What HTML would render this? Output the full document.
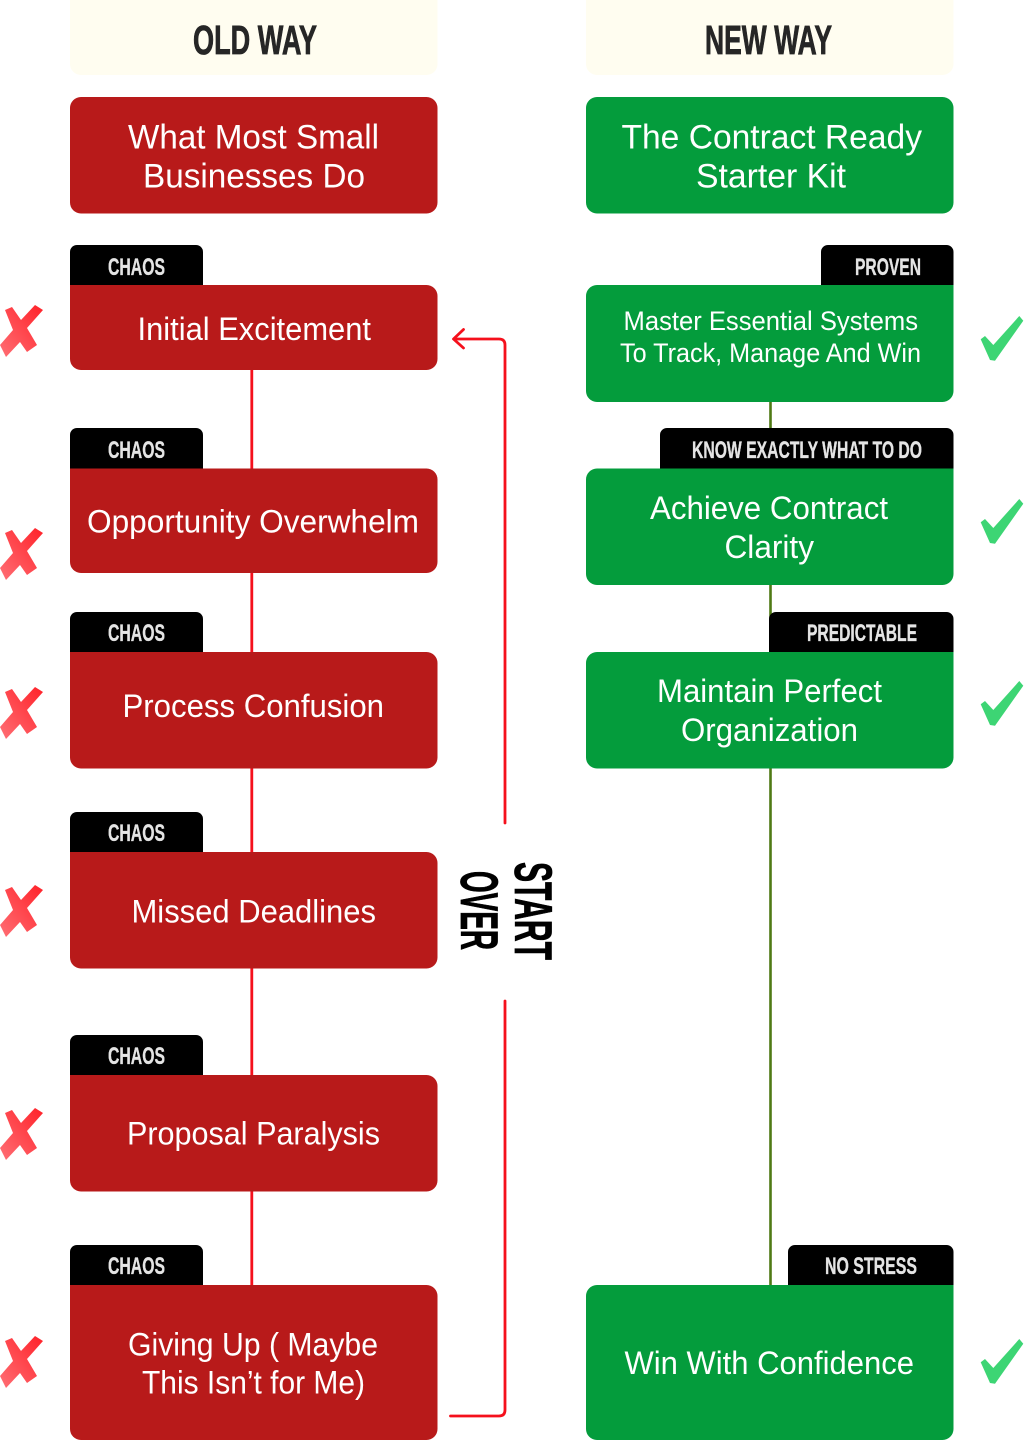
<!DOCTYPE html>
<html>
<head>
<meta charset="utf-8">
<style>
html,body{margin:0;padding:0;background:#fff;}
svg{display:block;}
.c{font-family:"Liberation Sans",sans-serif;font-weight:700;}
.m{font-family:"Liberation Sans",sans-serif;fill:#fff;}
.t{font-size:24px;fill:#e4e4e4;stroke:#e4e4e4;stroke-width:.35px;}
.h{stroke:#262626;stroke-width:.8px;}
.s{stroke:#000;stroke-width:.8px;}
</style>
</head>
<body>
<svg width="1025" height="1440" viewBox="0 0 1025 1440" xmlns="http://www.w3.org/2000/svg">
<defs>
<linearGradient id="xg" x1="1" y1="0" x2="0" y2="1">
<stop offset="0" stop-color="#ff2229"/>
<stop offset="1" stop-color="#ff6f75"/>
</linearGradient>
<polygon id="x" points="35,1 43,6 27,24 37,41 27,48 20,38 6,53 0,41 13,26 5,6 12,3 21,16" fill="url(#xg)"/>
<polygon id="ck" points="980.700,339.300 985,336 993.300,345 1019.300,316 1023.300,320.700 995,360.700 990,360" fill="#3dd574"/>
</defs>

<!-- connectors -->
<line x1="251.800" y1="365" x2="251.800" y2="1290" stroke="#f5101c" stroke-width="2.8"/>
<line x1="770.500" y1="398" x2="770.500" y2="1290" stroke="#4f7a14" stroke-width="2.6"/>

<!-- headers -->
<rect x="70" y="-12" width="367.500" height="87" rx="11" fill="#fffdf0"/>
<rect x="586" y="-12" width="367.500" height="87" rx="11" fill="#fffdf0"/>
<text class="c h" x="193" y="54" font-size="41" fill="#262626" textLength="124" lengthAdjust="spacingAndGlyphs">OLD WAY</text>
<text class="c h" x="705" y="54" font-size="41" fill="#262626" textLength="127" lengthAdjust="spacingAndGlyphs">NEW WAY</text>

<!-- tags -->
<g fill="#000">
<path d="M70 290V252a7 7 0 0 1 7-7H196a7 7 0 0 1 7 7V290Z"/>
<path d="M70 473V435a7 7 0 0 1 7-7H196a7 7 0 0 1 7 7V473Z"/>
<path d="M70 657V619a7 7 0 0 1 7-7H196a7 7 0 0 1 7 7V657Z"/>
<path d="M70 857V819a7 7 0 0 1 7-7H196a7 7 0 0 1 7 7V857Z"/>
<path d="M70 1080V1042a7 7 0 0 1 7-7H196a7 7 0 0 1 7 7V1080Z"/>
<path d="M70 1290V1252a7 7 0 0 1 7-7H196a7 7 0 0 1 7 7V1290Z"/>
<path d="M821 290V252a7 7 0 0 1 7-7H946.500a7 7 0 0 1 7 7V290Z"/>
<path d="M660 473V435a7 7 0 0 1 7-7H946.500a7 7 0 0 1 7 7V473Z"/>
<path d="M769 657V619a7 7 0 0 1 7-7H946.500a7 7 0 0 1 7 7V657Z"/>
<path d="M788 1290V1252a7 7 0 0 1 7-7H946.500a7 7 0 0 1 7 7V1290Z"/>
</g>
<g class="c t">
<text x="108" y="275" textLength="57" lengthAdjust="spacingAndGlyphs">CHAOS</text>
<text x="108" y="458" textLength="57" lengthAdjust="spacingAndGlyphs">CHAOS</text>
<text x="108" y="641" textLength="57" lengthAdjust="spacingAndGlyphs">CHAOS</text>
<text x="108" y="841" textLength="57" lengthAdjust="spacingAndGlyphs">CHAOS</text>
<text x="108" y="1064" textLength="57" lengthAdjust="spacingAndGlyphs">CHAOS</text>
<text x="108" y="1274" textLength="57" lengthAdjust="spacingAndGlyphs">CHAOS</text>
<text x="855" y="275" textLength="66" lengthAdjust="spacingAndGlyphs">PROVEN</text>
<text x="692" y="458" textLength="230" lengthAdjust="spacingAndGlyphs">KNOW EXACTLY WHAT TO DO</text>
<text x="807" y="641" textLength="110" lengthAdjust="spacingAndGlyphs">PREDICTABLE</text>
<text x="825" y="1274" textLength="92" lengthAdjust="spacingAndGlyphs">NO STRESS</text>
</g>

<!-- red boxes -->
<g fill="#b81a1a">
<rect x="70" y="97" width="367.500" height="116.500" rx="11"/>
<path d="M70 285H426.500a11 11 0 0 1 11 11V359a11 11 0 0 1-11 11H81a11 11 0 0 1-11-11Z"/>
<path d="M70 468.500H426.500a11 11 0 0 1 11 11V562a11 11 0 0 1-11 11H81a11 11 0 0 1-11-11Z"/>
<path d="M70 652H426.500a11 11 0 0 1 11 11V757.500a11 11 0 0 1-11 11H81a11 11 0 0 1-11-11Z"/>
<path d="M70 852H426.500a11 11 0 0 1 11 11V957.500a11 11 0 0 1-11 11H81a11 11 0 0 1-11-11Z"/>
<path d="M70 1075H426.500a11 11 0 0 1 11 11V1180.500a11 11 0 0 1-11 11H81a11 11 0 0 1-11-11Z"/>
<path d="M70 1285H426.500a11 11 0 0 1 11 11V1429a11 11 0 0 1-11 11H81a11 11 0 0 1-11-11Z"/>
</g>
<!-- green boxes -->
<g fill="#049c3c">
<rect x="586" y="97" width="367.500" height="116.500" rx="11"/>
<path d="M953.500 285H597a11 11 0 0 0-11 11V391a11 11 0 0 0 11 11H942.500a11 11 0 0 0 11-11Z"/>
<path d="M953.500 468.500H597a11 11 0 0 0-11 11V574a11 11 0 0 0 11 11H942.500a11 11 0 0 0 11-11Z"/>
<path d="M953.500 652H597a11 11 0 0 0-11 11V757.500a11 11 0 0 0 11 11H942.500a11 11 0 0 0 11-11Z"/>
<path d="M953.500 1285H597a11 11 0 0 0-11 11V1429a11 11 0 0 0 11 11H942.500a11 11 0 0 0 11-11Z"/>
</g>

<!-- box text -->
<g class="m" font-size="34">
<text x="128" y="148.300" textLength="251" lengthAdjust="spacingAndGlyphs">What Most Small</text>
<text x="143" y="187.300" textLength="222" lengthAdjust="spacingAndGlyphs">Businesses Do</text>
<text x="621.500" y="148.300" textLength="300.500" lengthAdjust="spacingAndGlyphs">The Contract Ready</text>
<text x="696" y="187.300" textLength="150" lengthAdjust="spacingAndGlyphs">Starter Kit</text>
</g>
<g class="m" font-size="32">
<text x="137.500" y="340" textLength="233.500" lengthAdjust="spacingAndGlyphs">Initial Excitement</text>
<text x="87" y="532.300" textLength="332" lengthAdjust="spacingAndGlyphs">Opportunity Overwhelm</text>
<text x="122.500" y="717" textLength="261.500" lengthAdjust="spacingAndGlyphs">Process Confusion</text>
<text x="131.500" y="922.300" textLength="244.500" lengthAdjust="spacingAndGlyphs">Missed Deadlines</text>
<text x="127" y="1144.300" textLength="253" lengthAdjust="spacingAndGlyphs">Proposal Paralysis</text>
<text x="128" y="1355.300" textLength="250" lengthAdjust="spacingAndGlyphs">Giving Up ( Maybe</text>
<text x="142" y="1393.300" textLength="223" lengthAdjust="spacingAndGlyphs">This Isn’t for Me)</text>
<text x="650" y="519" textLength="238" lengthAdjust="spacingAndGlyphs">Achieve Contract</text>
<text x="724.500" y="558" textLength="89.500" lengthAdjust="spacingAndGlyphs">Clarity</text>
<text x="657" y="702" textLength="225" lengthAdjust="spacingAndGlyphs">Maintain Perfect</text>
<text x="681" y="741" textLength="177" lengthAdjust="spacingAndGlyphs">Organization</text>
<text x="624.500" y="1374" textLength="289.500" lengthAdjust="spacingAndGlyphs">Win With Confidence</text>
</g>
<g class="m" font-size="27">
<text x="623.500" y="330" textLength="294.500" lengthAdjust="spacingAndGlyphs">Master Essential Systems</text>
<text x="620" y="362" textLength="301" lengthAdjust="spacingAndGlyphs">To Track, Manage And Win</text>
</g>

<!-- start over loop -->
<g fill="none" stroke="#f5101c" stroke-width="2.8" stroke-linecap="round" stroke-linejoin="round">
<path d="M505 823 V345 Q505 339 499 339 H454"/>
<path d="M463.500 329.500 L453.500 339 L463.500 348"/>
<path d="M505 1001 V1410 Q505 1416 499 1416 H450.500"/>
</g>
<text class="c s" transform="translate(515,862) rotate(90)" font-size="53" fill="#000" textLength="98" lengthAdjust="spacingAndGlyphs">START</text>
<text class="c s" transform="translate(461,871) rotate(90)" font-size="53" fill="#000" textLength="79" lengthAdjust="spacingAndGlyphs">OVER</text>

<!-- crosses -->
<use href="#x" x="0" y="304"/>
<use href="#x" x="0" y="527"/>
<use href="#x" x="0" y="686"/>
<use href="#x" x="0" y="884"/>
<use href="#x" x="0" y="1107"/>
<use href="#x" x="0" y="1335"/>

<!-- checks -->
<use href="#ck"/>
<use href="#ck" y="183"/>
<use href="#ck" y="365"/>
<use href="#ck" y="1023"/>
</svg>
</body>
</html>
